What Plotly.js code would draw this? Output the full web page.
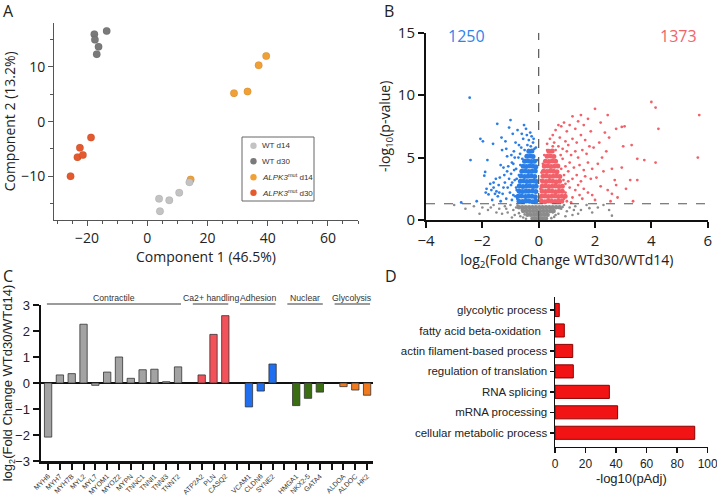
<!DOCTYPE html>
<html><head><meta charset="utf-8">
<script src="https://cdn.plot.ly/plotly-3.0.1.min.js"></script>
<style>html,body{margin:0;padding:0;background:#fff}#chart{width:717px;height:496px}</style>
</head><body><div id="chart"></div>
<script>
// ---------- Panel A: PCA ----------
const pcaLabels = ['WT d14', 'WT d30', '<i>ALPK3</i><sup>mut</sup> d14', '<i>ALPK3</i><sup>mut</sup> d30'];
const pcaWTd14X = [3.9, 4.2, 7.3, 10.6, 14.0];
const pcaWTd14Y = [-14.1, -16.4, -14.4, -13.0, -11.1];
const pcaWTd30X = [-17.6, -13.5, -17.4, -16.2, -16.8];
const pcaWTd30Y = [16.0, 16.6, 15.0, 13.7, 12.35];
const pcaMutd14X = [14.4, 28.8, 33.3, 37.0, 39.5];
const pcaMutd14Y = [-10.6, 5.2, 5.5, 10.3, 12.0];
const pcaMutd30X = [-18.7, -22.4, -23.2, -21.4, -25.5];
const pcaMutd30Y = [-2.9, -4.8, -6.5, -6.1, -10.0];

// ---------- Panel B: volcano ----------
const downCount = 1250, upCount = 1373, pThreshold = 1.3;
const volcanoDownCore = [[-0.7,1.5],[-0.57,1.48],[-0.45,1.52],[-0.33,1.5],[-0.21,1.47],[-0.1,1.52],
 [-0.73,1.9],[-0.61,1.93],[-0.47,1.88],[-0.36,1.91],[-0.24,1.9],[-0.12,1.87],
 [-0.7,2.32],[-0.58,2.28],[-0.46,2.31],[-0.35,2.3],[-0.22,2.33],[-0.1,2.28],
 [-0.69,2.72],[-0.56,2.68],[-0.44,2.7],[-0.32,2.73],[-0.2,2.69],[-0.09,2.71],
 [-0.65,3.1],[-0.54,3.13],[-0.42,3.08],[-0.3,3.1],[-0.18,3.12],[-0.08,3.09],
 [-0.63,3.52],[-0.5,3.48],[-0.38,3.5],[-0.26,3.53],[-0.14,3.49],
 [-0.6,3.9],[-0.48,3.92],[-0.36,3.88],[-0.24,3.9],[-0.12,3.93],
 [-0.55,4.3],[-0.44,4.28],[-0.32,4.32],[-0.2,4.3],[-0.1,4.27],
 [-0.5,4.7],[-0.38,4.72],[-0.26,4.68],[-0.15,4.71],
 [-0.42,5.1],[-0.3,5.12],[-0.2,5.08],[-0.35,5.5],[-0.24,5.52]];
const volcanoDownSparse = [[-2.45,9.8],[-2.42,4.8],[-2.75,1.4],[-2.07,6.5],[-1.98,6.3],[-1.9,3.85],[-1.93,3.55],[-1.82,4.8],
 [-1.62,6.1],[-1.47,7.7],[-1.85,2.5],[-1.88,2.2],[-1.78,2.05],[-1.72,2.9],[-1.68,2.4],[-1.6,2.6],[-1.55,2.1],[-1.5,2.3],
 [-1.45,1.9],[-1.42,2.8],[-1.38,3.4],[-1.35,4.4],[-1.3,5.6],[-1.25,4.2],[-1.2,3.0],[-1.18,6.3],[-1.12,5.1],[-1.1,2.6],
 [-1.05,7.4],[-1.0,8.0],[-0.98,3.7],[-0.95,4.6],[-0.92,6.9],[-0.9,2.0],[-0.88,5.5],[-0.85,3.2],[-0.82,6.2],[-0.8,4.1],
 [-0.78,2.4],[-0.75,7.2],[-0.72,5.0],[-1.52,3.3],[-1.28,2.1],[-1.15,1.7],[-1.02,2.2],[-0.95,1.6],[-1.65,1.6],[-2.2,1.5],
 [-1.35,1.5],[-1.22,3.6],[-1.08,4.3],[-1.15,5.7],[-0.97,5.2],[-0.87,4.0],[-0.94,3.0],[-0.62,5.8],[-0.55,6.5],[-0.5,5.6],
 [-0.45,7.3],[-0.4,6.0],[-0.35,6.4],[-0.3,7.0],[-0.28,5.9],[-0.2,6.2],[-0.15,5.7],[-0.58,4.9],[-0.65,4.4],[-0.7,3.6],
 [-0.78,3.3],[-0.8,2.6],[-0.76,1.7],[-0.66,5.3],[-0.52,7.6],[-0.1,5.8],[-0.05,4.8],[-0.25,6.7],[-0.6,6.9],[-0.7,6.0],
 [-0.85,5.0],[-1.12,3.9],[-1.05,3.3],[-0.9,4.5],[-0.83,1.9],[-1.25,2.6],[-1.4,2.2],[-1.6,3.0],[-0.68,2.2],[-0.98,2.8],
 [-1.32,6.6],[-0.42,6.8],[-0.18,6.5],[-0.36,5.6]];
const volcanoUpCore = [[0.1,1.5],[0.22,1.47],[0.34,1.52],[0.46,1.5],[0.58,1.48],[0.7,1.52],[0.82,1.5],
 [0.1,1.9],[0.22,1.93],[0.34,1.88],[0.46,1.9],[0.58,1.92],[0.7,1.88],[0.82,1.91],[0.94,1.9],
 [0.12,2.3],[0.24,2.28],[0.36,2.32],[0.48,2.3],[0.6,2.27],[0.72,2.31],[0.84,2.3],
 [0.12,2.7],[0.24,2.72],[0.36,2.68],[0.48,2.7],[0.6,2.73],[0.72,2.69],[0.84,2.7],
 [0.14,3.1],[0.26,3.08],[0.38,3.12],[0.5,3.1],[0.62,3.07],[0.74,3.11],
 [0.15,3.5],[0.27,3.52],[0.39,3.48],[0.51,3.5],[0.63,3.53],[0.75,3.49],
 [0.17,3.9],[0.29,3.88],[0.41,3.92],[0.53,3.9],[0.65,3.87],
 [0.2,4.3],[0.32,4.32],[0.44,4.28],[0.56,4.3],[0.68,4.33],
 [0.24,4.7],[0.36,4.68],[0.48,4.72],[0.6,4.7],[0.3,5.1],[0.42,5.12],[0.54,5.08],[0.36,5.5],[0.48,5.52]];
const volcanoUpSparse = [[4.0,9.45],[4.15,9.0],[4.25,7.3],[5.7,8.4],[5.65,5.0],[4.15,4.6],[3.5,4.9],[3.75,4.8],[3.25,3.2],
 [3.5,3.2],[2.95,4.2],[3.05,7.5],[2.95,7.45],[2.75,7.3],[3.0,5.9],[3.3,6.0],[2.0,8.9],[1.5,8.4],[1.75,8.1],[2.45,8.4],
 [2.6,4.1],[2.7,3.2],[2.75,2.8],[2.6,2.1],[2.2,7.8],[2.35,7.0],[2.15,6.2],[2.4,5.5],[2.5,6.6],[2.25,5.0],[2.1,4.5],
 [2.3,3.9],[2.05,3.4],[2.2,2.7],[2.45,2.4],[1.9,2.0],[2.0,1.6],[2.8,1.8],[3.1,2.5],[1.95,5.8],[1.85,7.1],[1.6,7.6],
 [1.4,7.9],[1.3,7.3],[1.2,8.3],[1.1,7.6],[1.0,7.1],[0.9,7.8],[0.8,7.5],[0.7,7.6],[0.6,7.2],[0.5,6.8],[0.4,6.5],
 [0.3,6.1],[0.55,6.2],[0.75,6.6],[0.95,6.3],[1.05,6.0],[1.2,6.5],[1.35,6.2],[1.5,6.8],[1.65,6.4],[1.8,5.9],[1.7,5.3],
 [1.55,5.6],[1.4,5.0],[1.3,5.5],[1.15,5.2],[1.0,5.5],[0.85,5.7],[0.7,5.9],[0.6,5.6],[1.1,4.6],[1.25,4.2],[1.45,4.4],
 [1.6,4.0],[1.75,4.6],[1.9,4.1],[1.85,3.3],[1.65,3.5],[1.5,3.1],[1.35,3.6],[1.2,3.3],[1.05,3.9],[0.95,4.3],[0.9,3.6],
 [0.95,2.9],[1.1,2.6],[1.3,2.4],[1.45,2.0],[1.6,2.5],[1.75,2.2],[1.55,1.7],[1.2,1.8],[1.0,1.5],[0.95,2.2],[1.05,3.1],
 [1.4,2.8],[0.85,4.9],[0.8,4.1],[0.78,5.2],[0.5,5.9],[0.3,5.6],[0.2,5.2],[0.15,4.5],[0.1,3.8],[0.08,3.2],[0.06,2.5],
 [0.05,1.8],[0.9,1.7],[0.88,3.2],[1.15,1.4],[2.55,1.5],[3.35,1.5]];
const volcanoNsCore = [[-0.22,0.12],[-0.1,0.12],[0.02,0.12],[0.14,0.12],[0.26,0.12],
 [-0.4,0.42],[-0.28,0.42],[-0.16,0.42],[-0.04,0.42],[0.08,0.42],[0.2,0.42],[0.32,0.42],
 [-0.55,0.72],[-0.43,0.72],[-0.31,0.72],[-0.19,0.72],[-0.07,0.72],[0.05,0.72],[0.17,0.72],[0.29,0.72],[0.41,0.72],[0.53,0.72],
 [-0.7,1.02],[-0.58,1.02],[-0.46,1.02],[-0.34,1.02],[-0.22,1.02],[-0.1,1.02],[0.02,1.02],[0.14,1.02],[0.26,1.02],[0.38,1.02],[0.5,1.02],[0.62,1.02],[0.74,1.02]];
const volcanoNsSparse = [[-3.0,1.2],[-2.6,0.9],[-2.3,1.1],[-2.0,1.0],[-1.8,0.8],[-1.6,1.2],[-1.4,0.9],[-1.2,1.1],[-1.1,0.6],
 [-1.0,1.2],[-0.9,0.8],[-0.85,0.4],[-0.75,1.15],[-0.7,0.55],[-0.65,0.3],[-0.55,0.2],[-0.45,0.1],[0.45,0.15],[0.55,0.25],
 [0.6,0.4],[0.7,0.5],[0.8,0.9],[0.9,1.2],[1.0,0.7],[1.1,1.0],[1.2,0.4],[1.3,1.1],[1.5,0.8],[1.7,1.2],[1.9,0.6],[2.1,1.0],
 [2.5,0.8],[2.6,0.35],[-1.3,0.5],[-1.5,0.6],[-0.95,0.2],[0.95,0.3],[1.4,0.5],[-2.1,0.5],[0.85,1.05],[-0.8,1.0],[-1.15,0.9],
 [1.25,0.8],[0.65,1.0],[-0.6,0.8],[-0.5,0.45],[0.5,0.6],[1.8,0.95],[-1.7,1.0],[2.3,1.2]];

// ---------- Panel C: gene fold changes ----------
const groupNames = ['Contractile', 'Ca2+ handling', 'Adhesion', 'Nuclear', 'Glycolysis'];
const groupColors = ['#a3a3a3', '#f4525a', '#1f6ff0', '#3b6e12', '#f27a1e'];
const geneNames = ['MYH6','MYH7','MYH7B','MYL2','MYL7','MYOM1','MYOZ2','MYPN','TNNC1','TNNI1','TNNI3','TNNT2',
  'ATP2A2','PLN','CASQ2','VCAM1','CLDN6','SYNE2','HMGA1','NKX2-5','GATA4','ALDOA','ALDOC','HK2'];
const geneGroup = [0,0,0,0,0,0,0,0,0,0,0,0, 1,1,1, 2,2,2, 3,3,3, 4,4,4];
const geneLog2FC = [-2.08,0.31,0.36,2.26,-0.09,0.42,1.0,0.18,0.51,0.53,0.05,0.62,
  0.31,1.87,2.59, -0.92,-0.31,0.73, -0.87,-0.59,-0.35, -0.14,-0.27,-0.47];

// ---------- Panel D: GO terms ----------
const goTerms = ['glycolytic process','fatty acid beta-oxidation\u00a0\u00a0','actin filament-based process',
  'regulation of translation','RNA splicing','mRNA processing','cellular metabolic process'];
const goNegLog10pAdj = [2.8, 6.1, 11.6, 12.0, 35.6, 41.0, 91.5];

// ---------- build ----------
const W = 717, H = 496;
const px = v => v / W, py = v => 1 - v / H;
const fOS = 'Open Sans, sans-serif';
const fAr = 'Liberation Sans, Arial, sans-serif';

// slot positions for panel C (one empty slot between groups)
const geneSlot = [];
let slot = 0;
geneNames.forEach((g, i) => {
  if (i > 0 && geneGroup[i] !== geneGroup[i - 1]) slot++;
  geneSlot.push(slot);
  slot++;
});

const traces = [];
const pcaSets = [
  [pcaMutd14X, pcaMutd14Y, '#f0a035'],
  [pcaMutd30X, pcaMutd30Y, '#e45a2e'],
  [pcaWTd14X, pcaWTd14Y, '#c3c3c3'],
  [pcaWTd30X, pcaWTd30Y, '#7a7a7a']
];
pcaSets.forEach(s => traces.push({type:'scatter', mode:'markers', x:s[0], y:s[1], xaxis:'x', yaxis:'y',
  marker:{size:7.5, color:s[2], line:{width:0.5, color:'rgba(0,0,0,0.15)'}}, cliponaxis:false}));

const vol = [
  [volcanoNsCore, '#8c8c8c', 4.5], [volcanoNsSparse, '#8c8c8c', 2.6],
  [volcanoDownCore, '#2a7ee6', 5], [volcanoDownSparse, '#2a7ee6', 2.8],
  [volcanoUpCore, '#f2616a', 5], [volcanoUpSparse, '#f2616a', 2.8]
];
vol.forEach(v => traces.push({type:'scatter', mode:'markers', x:v[0].map(p => p[0]), y:v[0].map(p => p[1]),
  xaxis:'x2', yaxis:'y2', marker:{size:v[2], color:v[1]}, cliponaxis:false}));

groupNames.forEach((gname, gi) => {
  const idx = geneGroup.map((g, i) => g === gi ? i : -1).filter(i => i >= 0);
  traces.push({type:'bar', x:idx.map(i => geneSlot[i]), y:idx.map(i => geneLog2FC[i]), xaxis:'x3', yaxis:'y3',
    width:0.62, marker:{color:groupColors[gi], line:{color:'#333', width:0.8}}});
});

traces.push({type:'bar', orientation:'h', x:goNegLog10pAdj, y:goTerms, xaxis:'x4', yaxis:'y4', width:0.64,
  marker:{color:'#f21414', line:{color:'#8a0000', width:1}}});

const shapes = [], annotations = [];
// panel letters
[['A',8,11],['B',389,11],['C',8,276],['D',391,276]].forEach(l => annotations.push({text:l[0], xref:'paper', yref:'paper',
  x:px(l[1]), y:py(l[2]), xanchor:'center', yanchor:'middle', showarrow:false, font:{family:fOS, size:16, color:'#222'}}));
// PCA legend box
shapes.push({type:'rect', xref:'paper', yref:'paper', x0:px(242), x1:px(314), y0:py(201), y1:py(137),
  line:{color:'#666', width:1}, fillcolor:'#fff', layer:'below'});
const legendColors = ['#c3c3c3', '#7a7a7a', '#f0a035', '#e45a2e'];
const legendY = [145.7, 161.3, 177.3, 192.7];
pcaLabels.forEach((lab, i) => {
  shapes.push({type:'circle', xref:'paper', yref:'paper', xsizemode:'pixel', ysizemode:'pixel',
    xanchor:px(253.5), yanchor:py(legendY[i]), x0:-3.2, x1:3.2, y0:-3.2, y1:3.2,
    fillcolor:legendColors[i], line:{width:0}});
  annotations.push({text:lab, xref:'paper', yref:'paper', x:px(260), y:py(legendY[i]), xanchor:'left',
    yanchor:'middle', showarrow:false, font:{family:fAr, size:8, color:'#333'}});
});
// volcano threshold lines and counts
shapes.push({type:'line', xref:'x2', yref:'y2', x0:0, x1:0, y0:0, y1:15, line:{color:'#555', width:1.2, dash:'dash'}});
shapes.push({type:'line', xref:'x2', yref:'y2', x0:-4, x1:6, y0:pThreshold, y1:pThreshold, line:{color:'#555', width:1.2, dash:'dash'}});
annotations.push({text:String(downCount), xref:'x2', yref:'y2', x:-2.55, y:14.75, xanchor:'center', yanchor:'middle',
  showarrow:false, font:{family:fOS, size:16, color:'#2f84ea'}});
annotations.push({text:String(upCount), xref:'x2', yref:'y2', x:4.95, y:14.75, xanchor:'center', yanchor:'middle',
  showarrow:false, font:{family:fOS, size:16, color:'#f06468'}});
// group header lines
groupNames.forEach((gname, gi) => {
  const slots = geneSlot.filter((s, i) => geneGroup[i] === gi);
  const a = slots[0] - (gi === 0 ? 0.1 : 0.75), b = slots[slots.length - 1] + 0.25;
  shapes.push({type:'line', xref:'x3', yref:'paper', x0:a, x1:b, y0:py(304), y1:py(304), line:{color:'#7a7a7a', width:1.5}});
  annotations.push({text:gname, xref:'x3', yref:'paper', x:(a + b) / 2, y:py(297.5), xanchor:'center', yanchor:'middle',
    showarrow:false, font:{family:fAr, size:8.7, color:'#333'}});
});

const axA = {showline:true, linecolor:'#555', linewidth:1, ticks:'outside', ticklen:5, tickcolor:'#555', tickwidth:1,
  showgrid:false, zeroline:false, tickfont:{family:fOS, size:14, color:'#222'}, ticklabeloverflow:'allow',
  minor:{dtick:5, tick0:0, ticks:'outside', ticklen:3, tickcolor:'#555', showgrid:false}};
const axB = {showline:true, linecolor:'#111', linewidth:2, ticks:'outside', ticklen:6, tickcolor:'#111', tickwidth:2,
  showgrid:false, zeroline:false, tickfont:{family:fOS, size:15, color:'#222'}, ticklabeloverflow:'allow'};
const axD = {showline:true, linecolor:'#111', linewidth:1.5, ticks:'outside', ticklen:5, tickcolor:'#111', tickwidth:1.5,
  showgrid:false, zeroline:false, tickfont:{family:fAr, size:12, color:'#222'}, ticklabeloverflow:'allow'};

const layout = {
  width:W, height:H, margin:{l:0, r:0, t:0, b:0}, paper_bgcolor:'#fff', plot_bgcolor:'rgba(0,0,0,0)',
  showlegend:false, bargap:0,
  xaxis:Object.assign({}, axA, {domain:[px(54), px(358)], range:[-31, 70], dtick:20, tick0:0, anchor:'y',
    title:{text:'Component 1 (46.5%)', font:{family:fOS, size:14, color:'#222'}, standoff:6}}),
  yaxis:Object.assign({}, axA, {domain:[py(220), py(22.7)], range:[-18, 18.1], dtick:10, tick0:0, anchor:'x',
    title:{text:'Component 2 (13.2%)', font:{family:fOS, size:14, color:'#222'}, standoff:2}}),
  xaxis2:Object.assign({}, axB, {domain:[px(426), px(707.7)], range:[-4, 6], dtick:2, tick0:0, anchor:'y2',
    title:{text:'log<sub>2</sub>(Fold Change WTd30/WTd14)', font:{family:fOS, size:14, color:'#222'}, standoff:4}}),
  yaxis2:Object.assign({}, axB, {domain:[py(220), py(32.7)], range:[0, 15], dtick:5, tick0:0, anchor:'x2',
    title:{text:'-log<sub>10</sub>(p-value)', font:{family:fOS, size:14, color:'#222'}, standoff:4}}),
  xaxis3:{domain:[px(41), px(373)], range:[-0.6, 27.5], anchor:'y3', tickmode:'array', tickvals:geneSlot, ticktext:geneNames,
    tickangle:-45, ticks:'outside', ticklen:6, tickwidth:2, tickcolor:'#111', showline:true, linewidth:2.5, linecolor:'#111',
    minor:{dtick:1, tick0:0, ticks:'outside', ticklen:6, tickwidth:2, tickcolor:'#111', showgrid:false},
    tickfont:{family:fAr, size:7, color:'#333'}, showgrid:false, zeroline:false, ticklabeloverflow:'allow'},
  yaxis3:{domain:[py(461), py(305)], range:[-3, 3], dtick:1, anchor:'x3', showline:true, linewidth:2.5, linecolor:'#111',
    ticks:'outside', ticklen:6, tickwidth:2, tickcolor:'#111', showgrid:false, zeroline:true, zerolinecolor:'#111', zerolinewidth:2.5,
    tickfont:{family:fAr, size:13, color:'#222'},
    title:{text:'log<sub>2</sub>(Fold Change WTd30/WTd14)', font:{family:fAr, size:13, color:'#222'}, standoff:6}},
  xaxis4:Object.assign({}, axD, {domain:[px(555), px(707.7)], range:[0, 100], dtick:20, tick0:0, anchor:'y4',
    title:{text:'-log10(pAdj)', font:{family:fAr, size:13, color:'#222'}, standoff:4}}),
  yaxis4:Object.assign({}, axD, {domain:[py(446.7), py(296.7)], type:'category', categoryorder:'array',
    categoryarray:goTerms.slice().reverse(), range:[-0.68, 6.65], anchor:'x4', ticklen:4, tickfont:{family:fAr, size:11.5, color:'#222'}}),
  shapes:shapes, annotations:annotations
};

Plotly.newPlot('chart', traces, layout, {displayModeBar:false, staticPlot:true});
</script>
</body></html>
